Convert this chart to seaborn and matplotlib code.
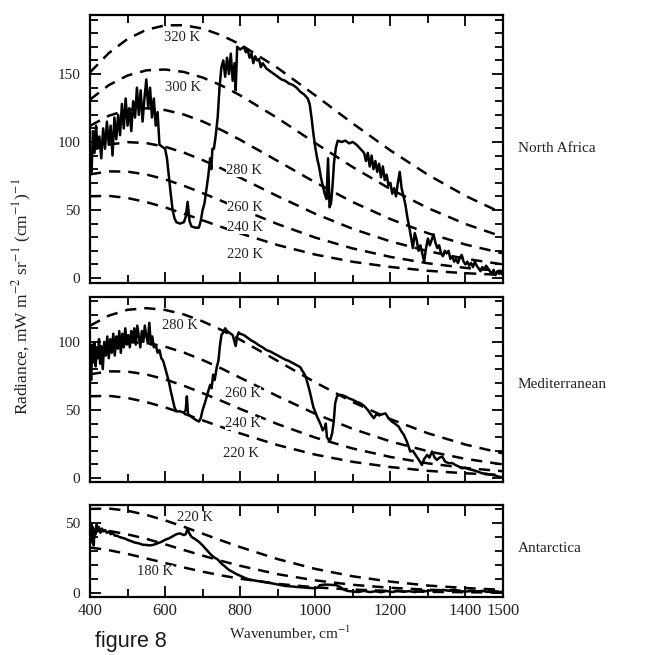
import numpy as np
import pandas as pd
import matplotlib
matplotlib.use("Agg")
import matplotlib.pyplot as plt
from matplotlib.ticker import MultipleLocator, FixedLocator
import seaborn as sns

# ---------------- data ----------------
bb_wn = [400, 450, 500, 550, 600, 650, 700, 750, 800, 900, 1000, 1100, 1200, 1300, 1400, 1500]
bb_320 = [151.2, 165.4, 175.8, 182.5, 185.8, 185.9, 183.4, 178.5, 171.8, 154.4, 134.3, 113.6, 93.8, 75.9, 60.4, 47.4]
bb_300 = [131.2, 141.8, 148.9, 152.7, 153.3, 151.5, 147.4, 141.6, 134.3, 117.5, 99.2, 81.5, 65.4, 51.4, 39.7, 30.2]
bb_280 = [111.9, 119.3, 123.6, 124.8, 123.5, 120.2, 115.1, 108.8, 101.6, 86.0, 70.3, 55.8, 43.3, 32.9, 24.6, 18.1]
bb_260 = [93.5, 98.1, 99.9, 99.2, 96.5, 92.2, 86.7, 80.5, 73.7, 60.1, 47.2, 36.1, 26.9, 19.7, 14.1, 10.0]
bb_240 = [76.2, 78.4, 78.2, 76.1, 72.5, 67.8, 62.4, 56.7, 50.8, 39.6, 29.7, 21.7, 15.5, 10.8, 7.4, 5.0]
bb_220 = [60.1, 60.4, 58.8, 55.8, 51.9, 47.3, 42.4, 37.5, 32.8, 24.2, 17.2, 11.9, 8.1, 5.3, 3.5, 2.2]
bb_200 = [45.4, 44.4, 41.9, 38.7, 34.8, 30.7, 26.7, 22.9, 19.4, 13.4, 9.0, 5.8, 3.7, 2.3, 1.4, 0.8]
bb_180 = [32.5, 30.6, 27.9, 24.7, 21.4, 18.2, 15.2, 12.5, 10.2, 6.5, 4.0, 2.4, 1.4, 0.8, 0.5, 0.3]

na_wn = [400, 404, 408, 412, 416, 420, 425, 430, 435, 440, 445, 450, 455, 460, 465, 470, 475, 480,
         485, 490, 495, 500, 505, 510, 515, 520, 525, 530, 535, 540, 545, 550, 555, 560, 565, 570,
         575, 580, 585, 590, 595, 600, 605, 610, 615, 620, 625, 630, 640, 650, 655, 660, 665, 670,
         680, 690, 695, 700, 705, 710, 715, 720, 723, 726, 730, 735, 740, 745, 750, 755, 760, 765,
         770, 775, 780, 785, 788, 792, 800, 810, 815, 820, 825, 830, 835, 840, 845, 850, 855, 860,
         870, 880, 890, 900, 910, 920, 930, 940, 950, 960, 970, 980, 985, 990, 995, 1000, 1005, 1010,
         1015, 1020, 1025, 1030, 1034, 1038, 1042, 1046, 1050, 1055, 1060, 1070, 1080, 1090, 1100,
         1110, 1120, 1130, 1135, 1140, 1145, 1150, 1155, 1160, 1165, 1170, 1175, 1180, 1185, 1190,
         1195, 1200, 1205, 1210, 1215, 1220, 1225, 1230, 1235, 1240, 1245, 1250, 1255, 1260, 1265,
         1270, 1275, 1280, 1285, 1290, 1295, 1300, 1305, 1310, 1315, 1320, 1325, 1330, 1335, 1340,
         1345, 1350, 1355, 1360, 1365, 1370, 1375, 1380, 1385, 1390, 1395, 1400, 1405, 1410, 1415,
         1420, 1425, 1430, 1435, 1440, 1445, 1450, 1455, 1460, 1465, 1470, 1475, 1480, 1485, 1490,
         1495, 1500]
na_rad = [95, 78, 108, 92, 112, 96, 104, 88, 110, 95, 115, 98, 112, 90, 118, 102, 120, 105,
          128, 110, 132, 112, 125, 108, 130, 118, 140, 120, 138, 115, 132, 146, 125, 140, 118, 132,
          112, 122, 98, 97, 96, 95, 88, 75, 62, 50, 44, 41, 40, 41, 45, 56, 42, 38,
          37, 37, 42, 50, 55, 65, 75, 88, 80, 95, 95, 105, 118, 140, 155, 160, 148, 162,
          150, 165, 145, 158, 138, 170, 168, 170, 166, 168, 162, 165, 158, 163, 160, 161, 155, 158,
          154, 152, 150, 148, 146, 145, 143, 142, 140, 137, 135, 132, 128, 118, 106, 96, 88, 82,
          74, 68, 62, 58, 88, 52, 55, 68, 85, 96, 101, 100, 101, 99, 100,
          98, 95, 92, 86, 92, 82, 90, 80, 86, 78, 84, 74, 82, 72, 76,
          68, 70, 62, 66, 60, 70, 78, 66, 60, 54, 45, 38, 30, 22, 33,
          28, 20, 24, 18, 12, 22, 29, 24, 28, 32, 26, 22, 24, 18, 16,
          20, 18, 20, 14, 16, 12, 14, 11, 15, 17, 12, 10, 12, 9, 11,
          8, 12, 9, 7, 5, 8, 6, 9, 7, 5, 3, 6, 2, 5, 3,
          4, 2]

med_wn = [400, 403, 406, 409, 412, 415, 418, 421, 424, 427, 430, 434, 438, 442, 446, 450, 454, 458,
          462, 466, 470, 474, 478, 482, 486, 490, 494, 498, 502, 506, 510, 514, 518, 522, 526, 530,
          534, 538, 542, 546, 550, 554, 558, 562, 566, 570, 575, 580, 585, 590, 595, 600, 605, 610,
          615, 620, 625, 630, 640, 650, 655, 658, 661, 670, 680, 690, 695, 700, 707, 714, 720, 724,
          728, 732, 738, 742, 746, 750, 755, 760, 765, 770, 775, 780, 785, 788, 792, 796, 800, 810,
          820, 830, 840, 850, 860, 870, 880, 890, 900, 910, 920, 930, 940, 950, 960, 965, 970, 975,
          980, 985, 990, 995, 1000, 1005, 1010, 1015, 1020, 1025, 1028, 1031, 1036, 1040, 1045, 1049,
          1053, 1058, 1062, 1070, 1080, 1090, 1100, 1110, 1120, 1130, 1140, 1150, 1156, 1163, 1170,
          1180, 1187, 1195, 1204, 1212, 1222, 1230, 1236, 1244, 1250, 1253, 1260, 1267, 1276, 1284,
          1290, 1298, 1304, 1311, 1318, 1324, 1331, 1338, 1346, 1356, 1365, 1373, 1382, 1391, 1400,
          1410, 1418, 1430, 1444, 1455, 1471, 1480, 1489, 1500]
med_rad = [92, 72, 98, 85, 100, 82, 96, 88, 102, 84, 97, 80, 100, 90, 104, 88, 102, 92,
           106, 90, 104, 95, 108, 92, 106, 96, 110, 98, 105, 96, 108, 100, 110, 98, 112, 104,
           96, 108, 100, 112, 104, 100, 114, 98, 104, 96, 98, 92, 94, 88, 86, 81, 76, 71,
           64, 58, 52, 49, 49, 48, 50, 60, 47, 45, 43, 41.5, 44, 50, 56, 63, 68.5, 66,
           76, 72, 82, 86, 97, 105, 107, 110, 108, 107, 106, 105, 100, 97, 104, 107, 106, 105,
           103, 101, 99.5, 97.5, 96, 94, 93, 91.5, 90, 88.5, 87, 86, 84.5, 83, 81.5, 79, 77, 74,
           69, 64, 58, 52, 48.5, 45, 42, 39, 35, 37, 40, 30, 28, 28, 33, 41,
           55, 60, 61, 61, 60, 58.5, 57.5, 56, 55, 53, 50, 46, 44, 47, 46,
           47, 47.5, 44, 41.5, 40, 37.8, 34, 31.7, 26.8, 22, 19.5, 20, 17, 13.3, 9.6,
           14, 17, 15, 19.5, 15, 13.3, 15, 15.8, 12, 10.9, 11, 9.6, 8.5, 7.2, 7.5,
           6.5, 6, 5, 3.5, 3.2, 2.3, 1.8, 1, 0.5]

ant_wn = [400, 402, 404, 406, 408, 410, 412, 415, 418, 421, 424, 428, 432, 436, 440, 445, 450, 455,
          460, 466, 472, 478, 485, 492, 500, 510, 520, 530, 540, 550, 560, 570, 580, 590, 600, 610,
          620, 630, 640, 650, 655, 660, 664, 670, 680, 690, 700, 710, 720, 730, 740, 750, 760, 770,
          780, 790, 800, 810, 820, 830, 845, 860, 875, 890, 905, 920, 935, 950, 965, 980, 995, 1005,
          1012, 1025, 1040, 1055, 1065, 1075, 1085, 1100, 1115, 1130, 1145, 1160, 1175, 1190, 1205,
          1220, 1235, 1250, 1265, 1280, 1295, 1310, 1325, 1340, 1355, 1370, 1385, 1400, 1415, 1430,
          1445, 1460, 1475, 1490, 1500]
ant_rad = [44, 36, 50, 40, 47, 34, 45, 42, 49, 44, 47, 43, 46, 44, 45, 43, 44, 42,
           43, 41, 41, 40, 39.5, 39, 38, 37, 36, 35.5, 34.5, 34.3, 34, 34.5, 35.5, 36.5, 38, 39,
           40.5, 42, 42.6, 41.4, 42, 46, 43, 40.2, 38.5, 36.6, 34, 31, 28, 25.5, 24, 21, 18.8, 16.5,
           15, 13.5, 12.3, 11, 10, 9.3, 8.6, 8, 7.3, 6.6, 5.8, 5, 4.7, 4.3, 4, 3.7, 3.4, 3.6,
           5.5, 6, 5.8, 5.6, 4.5, 2.5, 1.5, 1, 0.7, 1.5, 0.6, 1.2, 0.5, 1.4, 0.6,
           1.6, 0.8, 1.3, 0.6, 2, 1.2, 2, 0.9, 2.2, 1.6, 2.3, 1.4, 0.9, 1.6, 0.8,
           1.5, 0.7, 1.2, 0.6, 1]

panels = ["North Africa", "Mediterranean", "Antarctica"]
panel_temps = [[320, 300, 280, 260, 240, 220], [280, 260, 240, 220], [220, 200, 180]]
panel_labels = [
    [("320 K", 645, 177), ("300 K", 648, 140), ("280 K", 811, 79), ("260 K", 813, 52),
     ("240 K", 813, 37), ("220 K", 813, 17)],
    [("280 K", 640, 112), ("260 K", 808, 62), ("240 K", 808, 40), ("220 K", 803, 18)],
    [("220 K", 680, 54), ("180 K", 573, 15)],
]
panel_yticks = [[0, 50, 100, 150], [0, 50, 100], [0, 50]]
panel_ylim = [(-3.7, 193.4), (-2.9, 133), (-2.9, 62.9)]
x_ticks = [400, 600, 800, 1000, 1200, 1400, 1500]

# ---------------- styling ----------------
sns.set_theme(style="ticks")
plt.rcParams["font.family"] = ["Liberation Serif", "DejaVu Serif"]
plt.rcParams["mathtext.fontset"] = "stix"

bb_table = {320: bb_320, 300: bb_300, 280: bb_280, 260: bb_260, 240: bb_240,
            220: bb_220, 200: bb_200, 180: bb_180}
spectra = [(na_wn, na_rad), (med_wn, med_rad), (ant_wn, ant_rad)]

fig = plt.figure(figsize=(6.45, 6.55), dpi=100)
W, H = 645.0, 655.0
boxes = [(90, 15, 503, 283), (90, 297, 503, 482), (90, 505, 503, 597)]
label_y_px = [148, 385, 548]

dash = (0, (4.5, 3.2))
for i, name in enumerate(panels):
    l, t, r, b = boxes[i]
    ax = fig.add_axes([l / W, 1 - b / H, (r - l) / W, (b - t) / H])

    rows = []
    for T in panel_temps[i]:
        for wn, v in zip(bb_wn, bb_table[T]):
            rows.append({"wn": wn, "rad": v, "T": T})
    bb_df = pd.DataFrame(rows)
    sns.lineplot(data=bb_df, x="wn", y="rad", units="T", estimator=None, color="black",
                 linewidth=1.8, linestyle=dash, ax=ax, sort=True)

    wn, rad = spectra[i]
    sp_df = pd.DataFrame({"wn": wn, "rad": rad})
    sns.lineplot(data=sp_df, x="wn", y="rad", estimator=None, color="black",
                 linewidth=1.8, ax=ax, sort=True)

    for txt, xv, yv in panel_labels[i]:
        ax.text(xv, yv, txt, ha="center", va="center", fontsize=10.5, color="#222222",
                bbox=dict(facecolor="white", edgecolor="none", pad=0.2))

    ax.set_xlim(400, 1500)
    ax.set_ylim(*panel_ylim[i])
    ax.xaxis.set_major_locator(FixedLocator(x_ticks))
    ax.xaxis.set_minor_locator(MultipleLocator(100))
    ax.yaxis.set_major_locator(FixedLocator(panel_yticks[i]))
    ax.yaxis.set_minor_locator(MultipleLocator(10))
    ax.tick_params(which="both", direction="in", top=True, right=True, width=1.3, color="black")
    ax.tick_params(which="major", length=8)
    ax.tick_params(which="minor", length=5.5)
    ax.tick_params(axis="y", labelsize=11, pad=7, labelcolor="#222222")
    ax.tick_params(axis="x", labelsize=12, pad=4, labelcolor="#222222")
    if i < 2:
        ax.tick_params(axis="x", labelbottom=False)
    ax.set_xlabel("")
    ax.set_ylabel("")
    for s in ax.spines.values():
        s.set_linewidth(1.6)
        s.set_color("black")

    fig.text(518 / W, 1 - label_y_px[i] / H, name, ha="left", va="center",
             fontsize=11, color="#222222")

fig.text(22 / W, 1 - 296 / H, r"Radiance, mW m$^{-2}$ sr$^{-1}$ (cm$^{-1}$)$^{-1}$",
         rotation=90, ha="center", va="center", fontsize=12.5, color="#222222")
fig.text(290 / W, 1 - 633 / H, r"Wavenumber, cm$^{-1}$", ha="center", va="center",
         fontsize=11, color="#222222")
fig.text(95 / W, 1 - 641 / H, "figure 8", ha="left", va="center", fontsize=15.5,
         family=["Liberation Sans", "DejaVu Sans"], color="#1a1a1a")

fig.savefig("out.png", dpi=100)
